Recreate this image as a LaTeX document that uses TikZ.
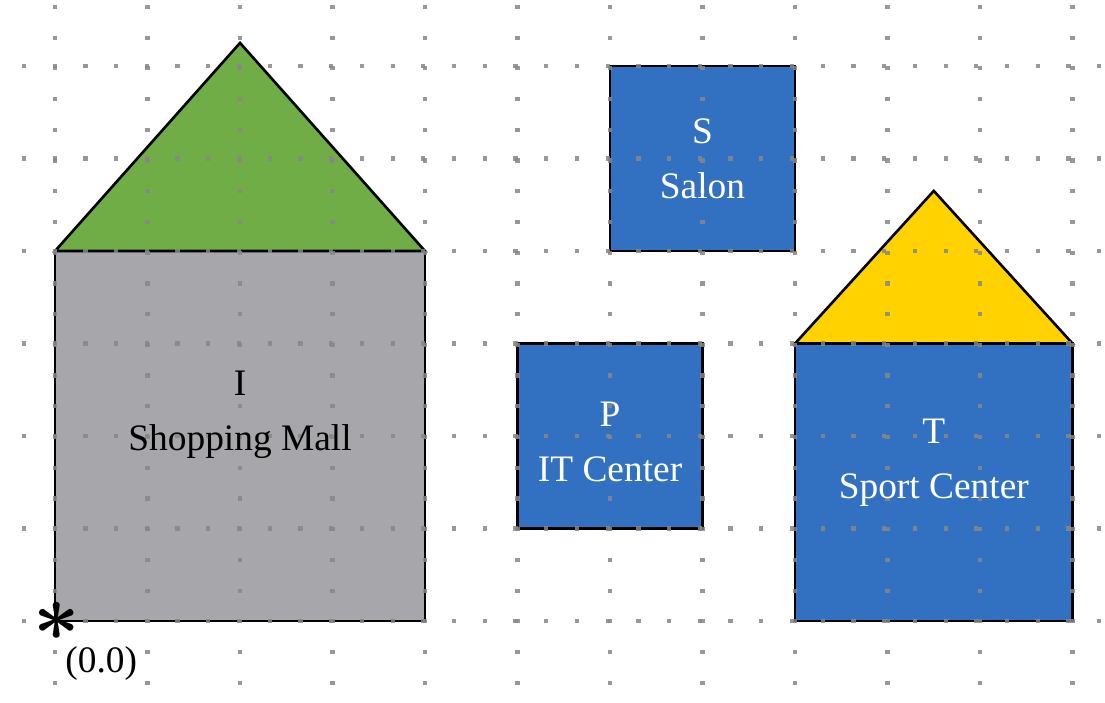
\documentclass[tikz,border=0pt]{standalone}
\usepackage{amsmath}
\usepackage{fontspec}
\setmainfont{Liberation Serif}
\usepackage{tikz}
\usetikzlibrary{positioning}
\definecolor{mallgray}{RGB}{166,166,171}
\definecolor{roofgreen}{RGB}{112,173,71}
\definecolor{roofyellow}{RGB}{255,210,0}
\definecolor{shopblue}{RGB}{50,113,193}
\definecolor{dotgray}{RGB}{135,135,135}
\begin{document}
\begin{tikzpicture}[x=1cm,y=1cm,
  every node/.append style={font=\fontsize{11.5}{17}\selectfont,align=center}]
  \tikzstyle{block} = [draw=black,line width=0.8pt]
  \tikzstyle{dotline} = [dotgray,opacity=0.85,line width=1.3pt,dash pattern=on 1.3pt off 8.15pt,dash phase=0.65pt]
  \tikzstyle{sign} = [text=black]
  \tikzstyle{signw} = [text=white]
  \useasboundingbox[fill=white] (-0.595,-0.876) rectangle (11.351,6.714);
  % buildings
  \filldraw[block,fill=mallgray] (0,0) rectangle (4,4);
  \filldraw[block,fill=roofgreen] (0,4) -- (2,6.25) -- (4,4) -- cycle;
  \filldraw[block,fill=shopblue] (6,4) rectangle (8,6);
  \filldraw[block,fill=shopblue] (5,1) rectangle (7,3);
  \filldraw[block,fill=shopblue] (8,0) rectangle (11,3);
  \filldraw[block,fill=roofyellow] (8,3) -- (9.5,4.65) -- (11,3) -- cycle;
  % dotted grid
  \foreach \x in {0,...,11}
    \draw[dotline] (\x,-1) -- (\x,7);
  \foreach \y in {0,...,6}
    \draw[dotline] (-1,\y) -- (12,\y);
  % names
  \node (mall) [sign] at (2,2.23) {I\\Shopping Mall};
  \node (salon) [signw] at (7,5.0) {S\\Salon};
  \node (itc) [signw] at (6,1.94) {P\\IT Center};
  \node (sport) [signw] at (9.5,1.71) {T\\Sport Center};
  % origin
  \node (zero) [inner sep=0pt,font=\fontsize{24}{24}\selectfont] at (0.02,0) {$\boldsymbol{\ast}$};
  \node (zerotext) [sign] at (0.5,-0.46) {(0.0)};
\end{tikzpicture}
\end{document}
